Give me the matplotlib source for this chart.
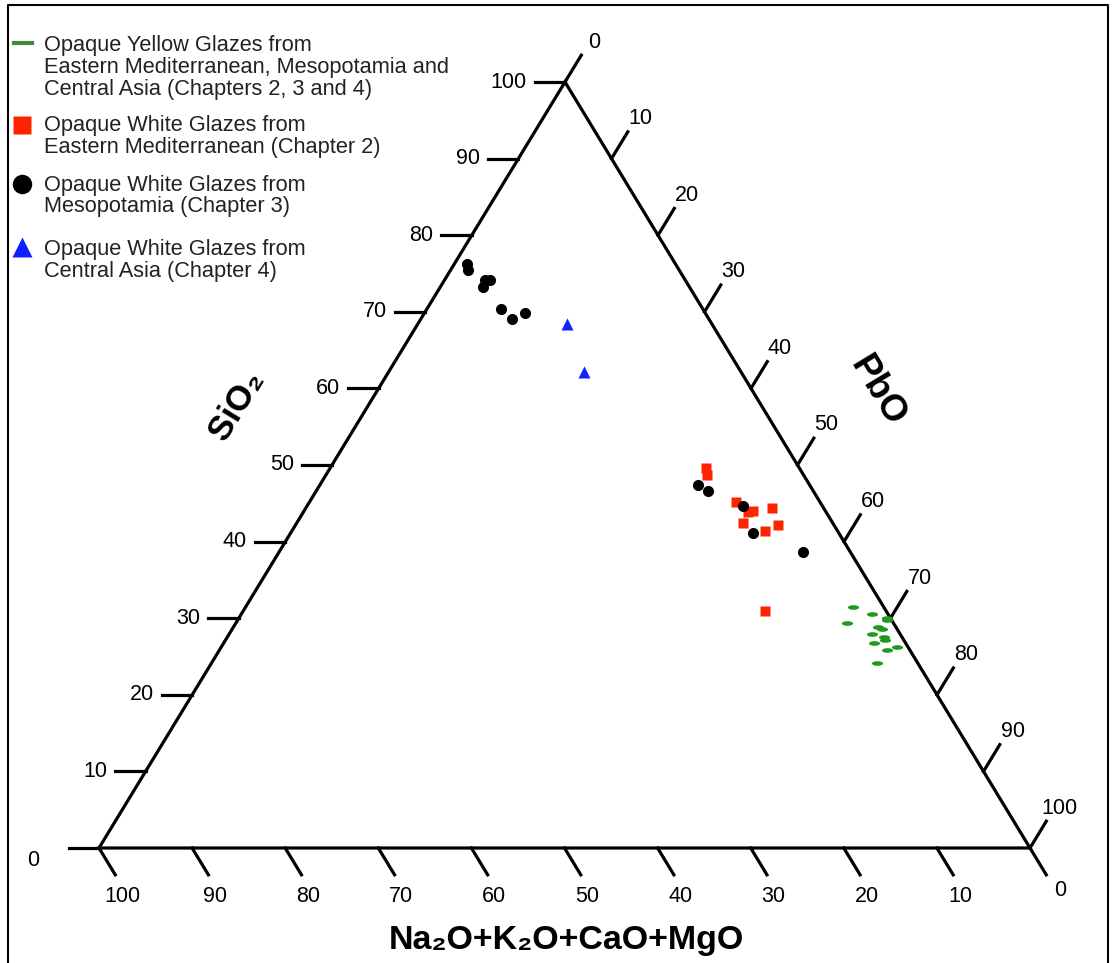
import matplotlib.pyplot as plt
from matplotlib.path import Path
from matplotlib.transforms import Affine2D

plt.rcParams['font.family'] = ['Liberation Sans', 'DejaVu Sans']

# compositions in wt% (SiO2, PbO); the rest is Na2O+K2O+CaO+MgO
yellow_sio2 = [31.4, 30.6, 30.0, 29.7, 29.4, 28.9, 28.6, 28.0, 27.5, 27.1, 26.7, 25.9, 26.3, 24.1]
yellow_pbo = [65.3, 67.7, 69.6, 69.8, 65.6, 69.2, 69.8, 69.0, 70.5, 70.9, 69.9, 71.7, 72.5, 71.5]

white_em_sio2 = [49.6, 48.7, 45.2, 43.9, 44.0, 44.4, 42.4, 41.4, 42.2, 31.0]
white_em_pbo = [40.4, 40.9, 45.8, 47.7, 48.2, 50.1, 47.9, 50.8, 51.8, 56.0]

white_meso_sio2 = [76.2, 75.4, 74.2, 74.1, 73.2, 70.4, 69.0, 69.9, 47.4, 46.6, 44.7, 41.1, 38.7]
white_meso_pbo = [1.4, 1.9, 4.3, 4.9, 4.6, 7.9, 9.8, 10.8, 40.6, 42.1, 46.8, 49.7, 56.2]

white_ca_sio2 = [68.4, 62.1]
white_ca_pbo = [16.0, 21.0]

ticks = list(range(0, 101, 10))

legend_labels = [
    ["Opaque Yellow Glazes from", "Eastern Mediterranean, Mesopotamia and",
     "Central Asia (Chapters 2, 3 and 4)"],
    ["Opaque White Glazes from", "Eastern Mediterranean (Chapter 2)"],
    ["Opaque White Glazes from", "Mesopotamia (Chapter 3)"],
    ["Opaque White Glazes from", "Central Asia (Chapter 4)"],
]

W, H = 1114, 963
fig = plt.figure(figsize=(W / 100, H / 100), dpi=100)
ax = fig.add_axes([0, 0, 1, 1])
ax.set_xlim(0, W)
ax.set_ylim(H, 0)
ax.axis('off')

# triangle corners in pixels: flux (bottom left), PbO (bottom right), SiO2 (top)
BL, BR, TOP = (99, 848), (1030, 848), (565, 82)
m = [[(BR[0] - BL[0]) / 100, (TOP[0] - BL[0]) / 100, BL[0]],
     [(BR[1] - BL[1]) / 100, (TOP[1] - BL[1]) / 100, BL[1]],
     [0, 0, 1]]
tern = Affine2D(m) + ax.transData  # (PbO, SiO2) -> display

lw = 2.3
ax.plot([0, 100, 0, 0], [0, 0, 100, 0], color='black', lw=lw,
        transform=tern, solid_joinstyle='miter', clip_on=False)

tick_len = 3.5
px = 72 / 100  # points per pixel
fs = 15.5
for t in ticks:
    # SiO2 (left edge), horizontal ticks
    ax.plot([0, -tick_len * 0.93], [t, t], color='black', lw=lw, transform=tern)
    # PbO (right edge), ticks parallel to left edge
    ax.plot([t, t], [100 - t, 100 - t + tick_len], color='black', lw=lw, transform=tern)
    # flux (bottom edge), ticks parallel to right edge
    f = 100 - t
    ax.plot([f, f + tick_len], [0, -tick_len], color='black', lw=lw, transform=tern)

for t in ticks:
    if t == 0:
        ax.annotate('0', xy=(0, 0), xycoords=tern, xytext=(-66 * px, -13 * px),
                    textcoords='offset points', ha='center', va='center', fontsize=fs)
    else:
        ax.annotate(str(t), xy=(-tick_len * 0.93, t), xycoords=tern,
                    xytext=(-8 * px, 0), textcoords='offset points',
                    ha='right', va='center', fontsize=fs)
    ax.annotate(str(t), xy=(t, 100 - t), xycoords=tern, xytext=(29 * px, 40 * px),
                textcoords='offset points', ha='center', va='center', fontsize=fs)
    ax.annotate(str(t), xy=(100 - t, 0), xycoords=tern,
                xytext=((23 if t else 30) * px, (-48 if t else -43) * px),
                textcoords='offset points', ha='center', va='center', fontsize=fs)

ax.text(237, 405, 'SiO\u2082', rotation=58.7, fontsize=25, fontweight='bold',
        ha='center', va='center', rotation_mode='anchor')
ax.text(877, 391, 'PbO', rotation=-58.7, fontsize=26.5, fontweight='bold',
        ha='center', va='center', rotation_mode='anchor')
ax.text(566, 940, 'Na\u2082O+K\u2082O+CaO+MgO', fontsize=24.5, fontweight='bold',
        ha='center', va='center')

# data
dash = Path.unit_circle().transformed(Affine2D().scale(1, 0.42))
green, red, blue = '#1e9a1e', '#ff2400', '#1020ff'
ax.plot(yellow_pbo, yellow_sio2, ls='none', marker=dash, ms=8, color=green,
        mec='none', transform=tern)
ax.plot(white_em_pbo, white_em_sio2, ls='none', marker='s', ms=7, color=red,
        mec='none', transform=tern)
ax.plot(white_meso_pbo, white_meso_sio2, ls='none', marker='o', ms=8, color='black',
        mec='none', transform=tern)
ax.plot(white_ca_pbo, white_ca_sio2, ls='none', marker='^', ms=9, color=blue,
        mec='none', transform=tern)

# legend
legend_y = [46, 126, 185, 250]
ax.plot([14, 32], [43, 43], color='#3c8c3c', lw=3)
ax.plot([22], [125], marker='s', ms=13, color=red, mec='none')
ax.plot([22], [184], marker='o', ms=14, color='black', mec='none')
ax.plot([22], [247], marker='^', ms=14, color=blue, mec='none')
for y0, lines in zip(legend_y, legend_labels):
    for i, line in enumerate(lines):
        ax.text(44, y0 + i * 21.5, line, fontsize=15.7, color='#222222',
                ha='left', va='center')

# frame around the picture
ax.plot([8, 8, 1108, 1108], [H + 5, 5, 5, H + 5], color='black', lw=1.5, clip_on=False)

fig.savefig('out.png', dpi=100)
